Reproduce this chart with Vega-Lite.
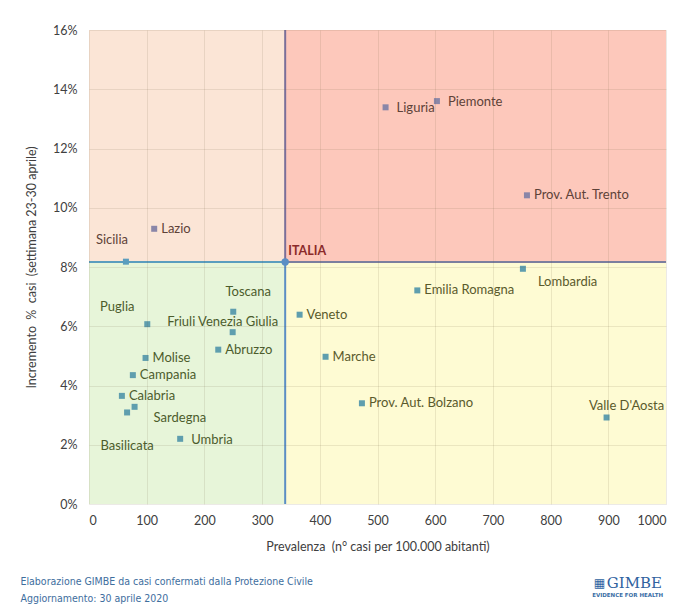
{
  "$schema": "https://vega.github.io/schema/vega-lite/v6.json",
  "width": 577,
  "height": 474,
  "autosize": {"type": "none"},
  "padding": {"left": 89, "top": 30, "right": 17, "bottom": 105},
  "background": "white",
  "config": {"view": {"stroke": null}, "font": "Lato"},
  "title": {
    "text": "Elaborazione GIMBE da casi confermati dalla Protezione Civile",
    "subtitle": "Aggiornamento: 30 aprile 2020",
    "orient": "bottom",
    "anchor": "start",
    "dx": -5,
    "offset": -21,
    "font": "Liberation Sans Narrow, DejaVu Sans Condensed, Lato",
    "fontSize": 10.5,
    "fontWeight": "normal",
    "color": "#3E6E9E",
    "subtitleFont": "Liberation Sans Narrow, DejaVu Sans Condensed, Lato",
    "subtitleFontSize": 10.5,
    "subtitleColor": "#3E6E9E",
    "subtitlePadding": 6
  },
  "datasets": {
    "quads": [
      {"q": "TL", "x": 0, "x2": 340, "y": 8.17, "y2": 16},
      {"q": "TR", "x": 340, "x2": 1000, "y": 8.17, "y2": 16},
      {"q": "BL", "x": 0, "x2": 340, "y": 0, "y2": 8.17},
      {"q": "BR", "x": 340, "x2": 1000, "y": 0, "y2": 8.17}
    ],
    "segs": [
      {"s": "vu", "x": 340, "x2": 340, "y": 8.17, "y2": 16},
      {"s": "vd", "x": 340, "x2": 340, "y": 0, "y2": 8.17},
      {"s": "hl", "x": 0, "x2": 340, "y": 8.17, "y2": 8.17},
      {"s": "hr", "x": 340, "x2": 1000, "y": 8.17, "y2": 8.17}
    ],
    "italia": [{"name": "ITALIA", "prevalenza": 340, "incremento": 8.17}],
    "regions": [
      {"name": "Sicilia", "prevalenza": 64, "incremento": 8.18, "quadrante": "TL"},
      {"name": "Lazio", "prevalenza": 113, "incremento": 9.29, "quadrante": "TL"},
      {"name": "Liguria", "prevalenza": 514, "incremento": 13.39, "quadrante": "TR"},
      {"name": "Piemonte", "prevalenza": 603, "incremento": 13.6, "quadrante": "TR"},
      {"name": "Prov. Aut. Trento", "prevalenza": 759, "incremento": 10.42, "quadrante": "TR"},
      {"name": "Lombardia", "prevalenza": 752, "incremento": 7.94, "quadrante": "BR"},
      {"name": "Emilia Romagna", "prevalenza": 569, "incremento": 7.21, "quadrante": "BR"},
      {"name": "Veneto", "prevalenza": 365, "incremento": 6.39, "quadrante": "BR"},
      {"name": "Marche", "prevalenza": 410, "incremento": 4.97, "quadrante": "BR"},
      {"name": "Prov. Aut. Bolzano", "prevalenza": 473, "incremento": 3.4, "quadrante": "BR"},
      {"name": "Valle D'Aosta", "prevalenza": 897, "incremento": 2.92, "quadrante": "BR"},
      {"name": "Toscana", "prevalenza": 250, "incremento": 6.49, "quadrante": "BL"},
      {"name": "Friuli Venezia Giulia", "prevalenza": 249, "incremento": 5.8, "quadrante": "BL"},
      {"name": "Abruzzo", "prevalenza": 224, "incremento": 5.21, "quadrante": "BL"},
      {"name": "Puglia", "prevalenza": 101, "incremento": 6.07, "quadrante": "BL"},
      {"name": "Molise", "prevalenza": 98, "incremento": 4.93, "quadrante": "BL"},
      {"name": "Campania", "prevalenza": 76, "incremento": 4.35, "quadrante": "BL"},
      {"name": "Calabria", "prevalenza": 57, "incremento": 3.65, "quadrante": "BL"},
      {"name": "Sardegna", "prevalenza": 79, "incremento": 3.28, "quadrante": "BL"},
      {"name": "Basilicata", "prevalenza": 66, "incremento": 3.09, "quadrante": "BL"},
      {"name": "Umbria", "prevalenza": 158, "incremento": 2.2, "quadrante": "BL"}
    ]
  },
  "layer": [
    {
      "data": {"name": "quads"},
      "mark": {"type": "rect"},
      "encoding": {
        "x": {
          "field": "x", "type": "quantitative",
          "scale": {"domain": [0, 1000], "nice": false, "zero": false},
          "axis": {
            "values": [0, 100, 200, 300, 400, 500, 600, 700, 800, 900, 1000],
            "format": "d",
            "title": "Prevalenza\u00a0 (n° casi per 100.000 abitanti)",
            "titleFont": "Lato", "titleFontSize": 12.5, "titleFontWeight": "normal", "titleColor": "#404040",
            "titlePadding": 14,
            "labelFont": "Lato", "labelFontSize": 12.5, "labelColor": "#404040", "labelPadding": 10,
            "domain": false, "ticks": false,
            "grid": true, "gridColor": "#6b5a40", "gridOpacity": 0.13, "gridWidth": 1,
            "zindex": 1
          }
        },
        "x2": {"field": "x2"},
        "y": {
          "field": "y", "type": "quantitative",
          "scale": {"domain": [0, 16], "nice": false, "zero": false},
          "axis": {
            "values": [0, 2, 4, 6, 8, 10, 12, 14, 16],
            "labelExpr": "datum.value + '%'",
            "title": "Incremento\u00a0 %\u00a0 casi\u00a0 (settimana 23-30 aprile)",
            "titleFont": "Lato", "titleFontSize": 12.5, "titleFontWeight": "normal", "titleColor": "#404040",
            "titlePadding": 14,
            "labelFont": "Lato", "labelFontSize": 12.5, "labelColor": "#404040", "labelPadding": 12,
            "domain": false, "ticks": false,
            "grid": true, "gridColor": "#6b5a40", "gridOpacity": 0.13, "gridWidth": 1,
            "zindex": 1
          }
        },
        "y2": {"field": "y2"},
        "fill": {
          "condition": [
            {"test": "datum.q === 'TL'", "value": "#FBE5D6"},
            {"test": "datum.q === 'TR'", "value": "#FDC8BB"},
            {"test": "datum.q === 'BL'", "value": "#E7F5D9"}
          ],
          "value": "#FEFBD3"
        }
      }
    },
    {
      "data": {"name": "segs"},
      "mark": {"type": "rule", "strokeWidth": 2},
      "encoding": {
        "x": {"field": "x", "type": "quantitative"},
        "x2": {"field": "x2"},
        "y": {"field": "y", "type": "quantitative"},
        "y2": {"field": "y2"},
        "stroke": {
          "condition": [
            {"test": "datum.s === 'vu'", "value": "#7B6F99"},
            {"test": "datum.s === 'vd'", "value": "#5B8EC4"},
            {"test": "datum.s === 'hl'", "value": "#5B9DBE"}
          ],
          "value": "#7C7E9E"
        }
      }
    },
    {
      "data": {"name": "regions"},
      "mark": {"type": "point", "shape": "square", "filled": true, "size": 36, "opacity": 1},
      "encoding": {
        "x": {"field": "prevalenza", "type": "quantitative"},
        "y": {"field": "incremento", "type": "quantitative"},
        "color": {
          "condition": [
            {"test": "datum.name === 'Sicilia'", "value": "#5B9DBE"},
            {"test": "datum.quadrante === 'TL' || datum.quadrante === 'TR'", "value": "#8A86A8"}
          ],
          "value": "#5F9EAE"
        }
      }
    },
    {
      "data": {"name": "italia"},
      "mark": {"type": "point", "shape": "circle", "filled": true, "size": 55, "opacity": 1, "color": "#5B8EC4"},
      "encoding": {
        "x": {"field": "prevalenza", "type": "quantitative"},
        "y": {"field": "incremento", "type": "quantitative"}
      }
    },
    {
      "data": {"name": "italia"},
      "mark": {"type": "text", "align": "left", "baseline": "middle", "dx": 3, "dy": -11, "font": "Lato", "fontSize": 12.5, "fontWeight": "bold", "color": "#8B2A2A"},
      "encoding": {
        "x": {"field": "prevalenza", "type": "quantitative"},
        "y": {"field": "incremento", "type": "quantitative"},
        "text": {"field": "name"}
      }
    },
    {
      "data": {"name": "regions"},
      "transform": [{"filter": {"field": "name", "oneOf": ["Lazio", "Prov. Aut. Trento", "Emilia Romagna", "Marche", "Prov. Aut. Bolzano", "Abruzzo", "Molise", "Campania", "Calabria", "Veneto"]}}],
      "mark": {"type": "text", "align": "left", "baseline": "middle", "dx": 7, "dy": 0, "font": "Lato", "fontSize": 13},
      "encoding": {
        "x": {"field": "prevalenza", "type": "quantitative"},
        "y": {"field": "incremento", "type": "quantitative"},
        "text": {"field": "name"},
        "color": {
          "condition": [
            {"test": "datum.quadrante === 'TL' || datum.quadrante === 'TR'", "value": "#5E4238"},
            {"test": "datum.quadrante === 'BL'", "value": "#4C5C2C"}
          ],
          "value": "#5A5A2C"
        }
      }
    },
    {
      "data": {"name": "regions"},
      "transform": [{"filter": {"field": "name", "oneOf": ["Liguria", "Umbria", "Piemonte"]}}],
      "mark": {"type": "text", "align": "left", "baseline": "middle", "dx": 11, "dy": 1, "font": "Lato", "fontSize": 13},
      "encoding": {
        "x": {"field": "prevalenza", "type": "quantitative"},
        "y": {"field": "incremento", "type": "quantitative"},
        "text": {"field": "name"},
        "color": {
          "condition": [
            {"test": "datum.quadrante === 'TL' || datum.quadrante === 'TR'", "value": "#5E4238"}
          ],
          "value": "#4C5C2C"
        }
      }
    },
    {
      "data": {"name": "regions"},
      "transform": [{"filter": {"field": "name", "equal": "Sicilia"}}],
      "mark": {"type": "text", "align": "center", "baseline": "middle", "dx": -14, "dy": -22, "font": "Lato", "fontSize": 13, "color": "#5E4238"},
      "encoding": {
        "x": {"field": "prevalenza", "type": "quantitative"},
        "y": {"field": "incremento", "type": "quantitative"},
        "text": {"field": "name"}
      }
    },
    {
      "data": {"name": "regions"},
      "transform": [{"filter": {"field": "name", "equal": "Lombardia"}}],
      "mark": {"type": "text", "align": "left", "baseline": "middle", "dx": 15, "dy": 13, "font": "Lato", "fontSize": 13, "color": "#5A5A2C"},
      "encoding": {
        "x": {"field": "prevalenza", "type": "quantitative"},
        "y": {"field": "incremento", "type": "quantitative"},
        "text": {"field": "name"}
      }
    },
    {
      "data": {"name": "regions"},
      "transform": [{"filter": {"field": "name", "equal": "Valle D'Aosta"}}],
      "mark": {"type": "text", "align": "center", "baseline": "middle", "dx": 20, "dy": -11, "font": "Lato", "fontSize": 13, "color": "#5A5A2C"},
      "encoding": {
        "x": {"field": "prevalenza", "type": "quantitative"},
        "y": {"field": "incremento", "type": "quantitative"},
        "text": {"field": "name"}
      }
    },
    {
      "data": {"name": "regions"},
      "transform": [{"filter": {"field": "name", "equal": "Toscana"}}],
      "mark": {"type": "text", "align": "center", "baseline": "middle", "dx": 15, "dy": -20, "font": "Lato", "fontSize": 13, "color": "#4C5C2C"},
      "encoding": {
        "x": {"field": "prevalenza", "type": "quantitative"},
        "y": {"field": "incremento", "type": "quantitative"},
        "text": {"field": "name"}
      }
    },
    {
      "data": {"name": "regions"},
      "transform": [{"filter": {"field": "name", "equal": "Friuli Venezia Giulia"}}],
      "mark": {"type": "text", "align": "center", "baseline": "middle", "dx": -10, "dy": -10, "font": "Lato", "fontSize": 13, "color": "#4C5C2C"},
      "encoding": {
        "x": {"field": "prevalenza", "type": "quantitative"},
        "y": {"field": "incremento", "type": "quantitative"},
        "text": {"field": "name"}
      }
    },
    {
      "data": {"name": "regions"},
      "transform": [{"filter": {"field": "name", "equal": "Puglia"}}],
      "mark": {"type": "text", "align": "center", "baseline": "middle", "dx": -30, "dy": -17, "font": "Lato", "fontSize": 13, "color": "#4C5C2C"},
      "encoding": {
        "x": {"field": "prevalenza", "type": "quantitative"},
        "y": {"field": "incremento", "type": "quantitative"},
        "text": {"field": "name"}
      }
    },
    {
      "data": {"name": "regions"},
      "transform": [{"filter": {"field": "name", "equal": "Sardegna"}}],
      "mark": {"type": "text", "align": "left", "baseline": "middle", "dx": 19, "dy": 11, "font": "Lato", "fontSize": 13, "color": "#4C5C2C"},
      "encoding": {
        "x": {"field": "prevalenza", "type": "quantitative"},
        "y": {"field": "incremento", "type": "quantitative"},
        "text": {"field": "name"}
      }
    },
    {
      "data": {"name": "regions"},
      "transform": [{"filter": {"field": "name", "equal": "Basilicata"}}],
      "mark": {"type": "text", "align": "center", "baseline": "middle", "dx": 0, "dy": 34, "font": "Lato", "fontSize": 13, "color": "#4C5C2C"},
      "encoding": {
        "x": {"field": "prevalenza", "type": "quantitative"},
        "y": {"field": "incremento", "type": "quantitative"},
        "text": {"field": "name"}
      }
    },
    {
      "data": {"values": [{"logo": "GIMBE"}]},
      "mark": {"type": "text", "align": "right", "baseline": "middle", "dx": -4, "font": "DejaVu Serif", "fontSize": 15, "color": "#2F62A0"},
      "encoding": {
        "x": {"datum": 1000, "type": "quantitative"},
        "y": {"datum": -2.65, "type": "quantitative"},
        "text": {"field": "logo"}
      }
    },
    {
      "data": {"values": [{"logo": "▦"}]},
      "mark": {"type": "text", "align": "right", "baseline": "middle", "dx": -61, "font": "DejaVu Sans", "fontSize": 12, "color": "#2F62A0"},
      "encoding": {
        "x": {"datum": 1000, "type": "quantitative"},
        "y": {"datum": -2.67, "type": "quantitative"},
        "text": {"field": "logo"}
      }
    },
    {
      "data": {"values": [{"logo": "EVIDENCE FOR HEALTH"}]},
      "mark": {"type": "text", "align": "right", "baseline": "middle", "dx": -3, "font": "DejaVu Sans", "fontSize": 5.5, "fontWeight": "bold", "color": "#3A6EA5"},
      "encoding": {
        "x": {"datum": 1000, "type": "quantitative"},
        "y": {"datum": -3.06, "type": "quantitative"},
        "text": {"field": "logo"}
      }
    }
  ]
}
